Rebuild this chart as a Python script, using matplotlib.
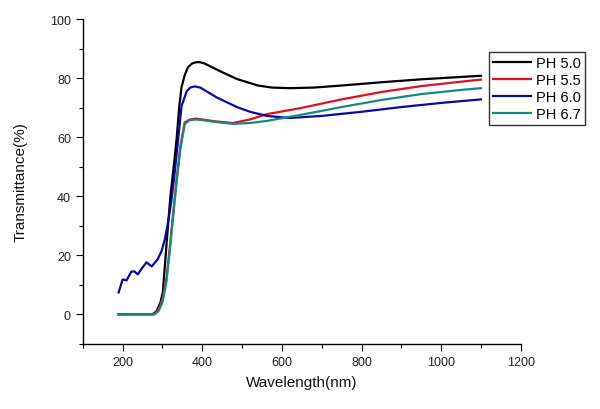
import matplotlib
matplotlib.use("Agg")
import matplotlib.pyplot as plt
from matplotlib.ticker import MultipleLocator

plt.rcParams['font.family'] = ['Liberation Sans', 'DejaVu Sans']

labels = ["PH 5.0", "PH 5.5", "PH 6.0", "PH 6.7"]
colors = ["#000000", "#e0101e", "#0a0aa0", "#138a80"]

wl_50 = [190, 275, 285, 295, 301, 311, 320, 330, 336, 342, 348, 356, 364, 375, 385, 394, 405, 420,
         444, 487, 540, 575, 620, 680, 750, 850, 950, 1050, 1100]
t_50 = [0, 0, 1, 4, 7.5, 25, 40, 52, 60, 70, 77, 81, 83.7, 85, 85.4, 85.4, 85, 84,
        82.4, 79.7, 77.5, 76.8, 76.6, 76.8, 77.5, 78.6, 79.6, 80.4, 80.8]

wl_55 = [190, 280, 290, 300, 310, 318, 326, 335, 345, 356, 369, 385, 400, 430,
         477, 520, 562, 645, 750, 850, 950, 1050, 1100]
t_55 = [0, 0, 1.5, 5, 12, 22, 33, 45, 57, 65, 66, 66.3, 66, 65.4,
        64.8, 66, 67.8, 69.8, 72.8, 75.3, 77.3, 78.8, 79.5]

wl_60 = [190, 200, 210, 222, 230, 238, 248, 260, 273, 288, 298, 306, 314, 322, 330, 340,
         348, 361, 370, 381, 395, 436, 487, 520, 562, 620, 700, 800, 900, 1000, 1100]
t_60 = [7.4, 11.8, 11.5, 14.5, 14.5, 13.5, 15.5, 17.6, 16.2, 18.6, 21.5, 25.4, 31, 38, 47, 60,
        70.5, 75.6, 76.8, 77.2, 76.8, 73.5, 70.2, 68.6, 67.2, 66.5, 67.2, 68.6, 70.2, 71.6, 72.8]

wl_67 = [190, 278, 290, 300, 310, 318, 326, 335, 345, 356, 369, 385, 400, 430,
         477, 520, 562, 645, 750, 850, 950, 1050, 1100]
t_67 = [0, 0, 1, 4, 11, 21, 32, 44, 56, 64.5, 65.8, 66, 65.8, 65.2,
        64.5, 64.8, 65.5, 67.5, 70.2, 72.6, 74.6, 76, 76.6]

wls = [wl_50, wl_55, wl_60, wl_67]
ts = [t_50, t_55, t_60, t_67]

fig = plt.figure(figsize=(6.0, 4.1), dpi=100)
ax = fig.add_axes([0.138, 0.159, 0.730, 0.792])

for w, t, c, lab in zip(wls, ts, colors, labels):
    ax.plot(w, t, color=c, lw=1.6, label=lab)

ax.set_xlim(100, 1200)
ax.set_ylim(-10, 100)
ax.set_xticks([200, 400, 600, 800, 1000, 1200])
ax.set_yticks([0, 20, 40, 60, 80, 100])
ax.xaxis.set_minor_locator(MultipleLocator(100))
ax.yaxis.set_minor_locator(MultipleLocator(10))
ax.spines['top'].set_visible(False)
ax.spines['right'].set_visible(False)
for s in ['left', 'bottom']:
    ax.spines[s].set_linewidth(1.0)
ax.tick_params(which='major', direction='out', length=5, width=0.8, labelsize=9,
               colors='black', labelcolor='#222222')
ax.tick_params(which='minor', direction='out', length=3, width=0.8)

ax.set_xlabel("Wavelength(nm)", fontsize=11, labelpad=5, color='#111111')
ax.set_ylabel("Transmittance(%)", fontsize=11, labelpad=16, color='#111111')

leg = fig.legend(loc='upper left', bbox_to_anchor=(0.815, 0.871), fontsize=10.5,
                 frameon=True, fancybox=False, edgecolor='black', handlelength=2.6,
                 handletextpad=0.3, labelspacing=0.2, borderpad=0.3, borderaxespad=0)
leg.get_frame().set_linewidth(1.0)

fig.savefig("out.png", dpi=100, facecolor='white')
